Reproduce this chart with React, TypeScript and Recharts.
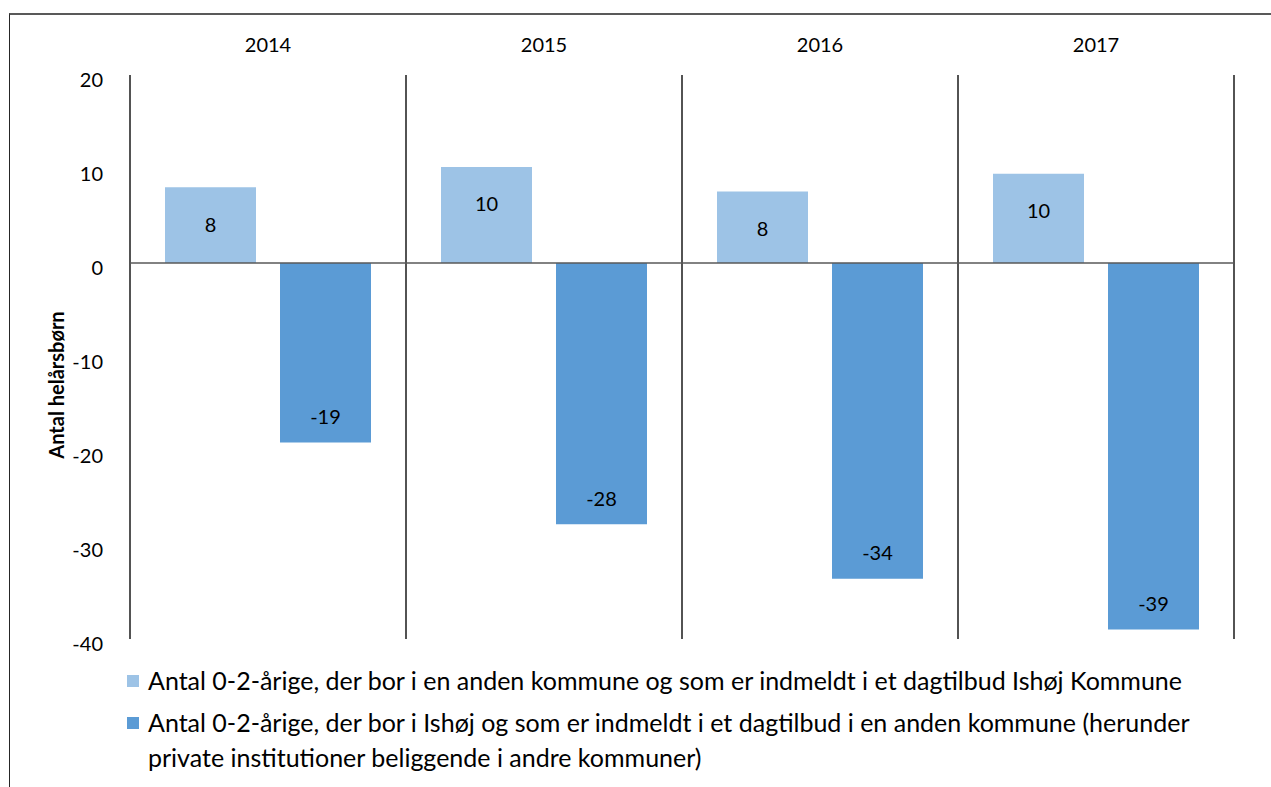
import React from "react";
import {
  Bar,
  BarChart,
  CartesianGrid,
  LabelList,
  Legend,
  ReferenceLine,
  XAxis,
  YAxis,
} from "recharts";

const years = ["2014", "2015", "2016", "2017"];
const livesElsewhere = [8.05, 10.2, 7.6, 9.5];
const livesInIshoj = [-19.1, -27.8, -33.6, -39.0];
const yTicks = [-40, -30, -20, -10, 0, 10, 20];
const seriesNames = [
  "Antal 0-2-årige, der bor i en anden kommune og som er indmeldt i et dagtilbud Ishøj Kommune",
  "Antal 0-2-årige, der bor i Ishøj og som er indmeldt i et dagtilbud i en anden kommune (herunder private institutioner beliggende i andre kommuner)",
];
const seriesColors = ["#9DC3E6", "#5B9BD5"];
const yLabel = "Antal helårsbørn";

const data = years.map((year, i) => ({
  year,
  elsewhere: livesElsewhere[i],
  ishoj: livesInIshoj[i],
}));

const FONT = "Lato, 'Open Sans', sans-serif";

// vertical lines on the borders between the year bands
const yearBorders = ({ xAxis, offset }: any) => {
  try {
    const scale = xAxis?.scale;
    const map =
      typeof scale === "function" ? (v: string) => scale(v) : scale?.map ? (v: string) => scale.map(v) : null;
    const bw = scale?.bandwidth?.();
    if (map && typeof bw === "number") {
      const starts = years.map((y) => Number(map(y)));
      if (starts.every((s) => Number.isFinite(s))) {
        return [...starts, starts[starts.length - 1] + bw];
      }
    }
  } catch (e) {
    // fall through to even split
  }
  const step = offset.width / years.length;
  return [...years.map((_, i) => offset.left + i * step), offset.left + offset.width];
};

const BarValue = (props: any) => {
  const vb = props.viewBox ?? props;
  const { x, y, width, height } = vb;
  const top = Math.min(y, y + height);
  const bottom = Math.max(y, y + height);
  const v = Number(props.value);
  const cy = v >= 0 ? top + 37 : bottom - 26;
  return (
    <text x={x + width / 2} y={cy} dy="0.36em" textAnchor="middle" fontSize={20} fontFamily={FONT} fill="#000">
      {Math.round(v)}
    </text>
  );
};

const YTick = (props: any) => {
  const { x, y, payload } = props;
  return (
    <text x={x} y={y + 5} dy="0.36em" textAnchor="end" fontSize={20} fontFamily={FONT} fill="#000">
      {payload.value}
    </text>
  );
};

const LegendBox = () => (
  <div style={{ fontFamily: FONT, fontSize: 25, color: "#000" }}>
    {seriesNames.map((name, i) => (
      <div key={i} style={{ display: "flex", alignItems: "flex-start", marginBottom: 7 }}>
        <div style={{ width: 12, height: 12, background: seriesColors[i], marginTop: 12, marginRight: 9, flex: "none" }} />
        <div style={{ width: 1060, lineHeight: "35px" }}>{name}</div>
      </div>
    ))}
  </div>
);

export default function App() {
  return (
    <div style={{ position: "absolute", left: 0, top: 0, width: 1271, height: 787, background: "#fff", overflow: "hidden" }}>
      <div
        style={{
          position: "absolute",
          left: 9,
          top: 13,
          width: 1300,
          height: 800,
          borderTop: "2px solid #595959",
          borderLeft: "1px solid #262626",
        }}
      />
      <div style={{ position: "absolute", left: 0, top: 0 }}>
        <BarChart
          width={1271}
          height={787}
          data={data}
          margin={{ top: 35, right: 37, bottom: 148, left: 40 }}
          barCategoryGap={35}
          barGap={24}
        >
          <CartesianGrid
            horizontal={false}
            vertical={true}
            verticalCoordinatesGenerator={yearBorders}
            stroke="#1a1a1a"
            strokeWidth={1.5}
          />
          <XAxis
            dataKey="year"
            orientation="top"
            height={40}
            axisLine={false}
            tickLine={false}
            tickSize={0}
            tickMargin={23}
            tick={{ fontSize: 20, fontFamily: FONT, fill: "#000" }}
          />
          <YAxis
            type="number"
            domain={[-40, 20]}
            ticks={yTicks}
            width={90}
            axisLine={false}
            tickLine={false}
            tickSize={0}
            tickMargin={27}
            tick={<YTick />}
            label={{
              content: (p: any) => {
                const vb = p.viewBox;
                const cx = vb.x + 17;
                const cy = vb.y + vb.height / 2 + 28;
                return (
                  <text
                    x={cx}
                    y={cy}
                    transform={`rotate(-90 ${cx} ${cy})`}
                    textAnchor="middle"
                    dy="0.36em"
                    fontSize={20}
                    fontWeight="bold"
                    fontFamily={FONT}
                    fill="#000"
                  >
                    {yLabel}
                  </text>
                );
              },
            }}
          />
          <ReferenceLine y={0} stroke="#595959" strokeWidth={1.5} />
          <Legend
            layout="horizontal"
            verticalAlign="middle"
            align="center"
            wrapperStyle={{ left: 127, top: 663, width: 1130 }}
            content={<LegendBox />}
          />
          <Bar dataKey="elsewhere" name={seriesNames[0]} fill={seriesColors[0]} isAnimationActive={false}>
            <LabelList dataKey="elsewhere" content={<BarValue />} />
          </Bar>
          <Bar dataKey="ishoj" name={seriesNames[1]} fill={seriesColors[1]} isAnimationActive={false}>
            <LabelList dataKey="ishoj" content={<BarValue />} />
          </Bar>
        </BarChart>
      </div>
    </div>
  );
}
